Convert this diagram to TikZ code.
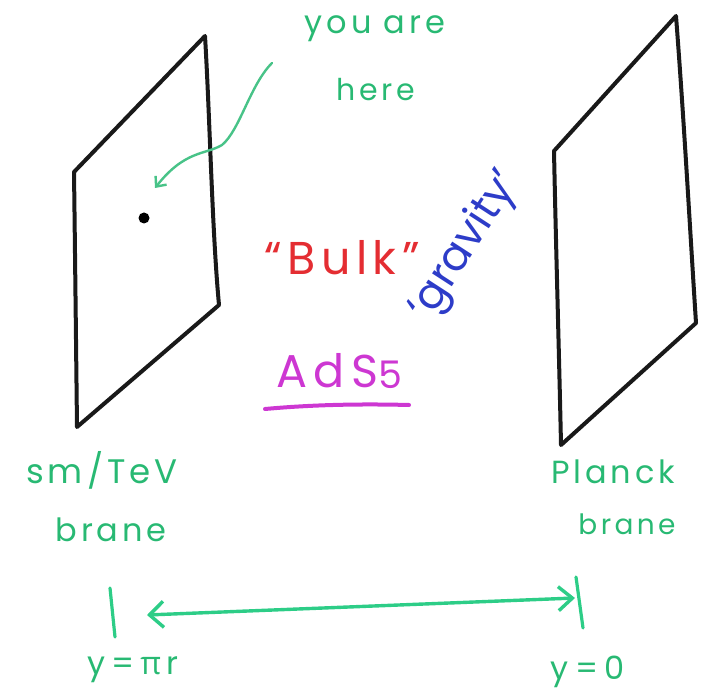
\documentclass[tikz,border=0pt]{standalone}
\usepackage{fontspec}
\setmainfont{Poppins}
\newfontfamily\hand[LetterSpace=12]{Poppins}
\newfontfamily\handwide[LetterSpace=20]{Poppins}
\newfontfamily\handads[LetterSpace=14]{Poppins}
\newfontfamily\greekfont{Open Sans}
\usetikzlibrary{arrows.meta}
\definecolor{hgreen}{RGB}{40,185,115}
\definecolor{agreen}{RGB}{45,205,135}
\definecolor{hred}{RGB}{228,45,50}
\definecolor{hblue}{RGB}{45,60,200}
\definecolor{hmag}{RGB}{205,55,210}
\tikzset{
  brane/.style={draw=black!90,line width=4pt,line join=round,line cap=round},
  gtext/.style={text=hgreen,font=\hand\fontsize{32}{34}\selectfont,inner sep=0pt},
  garrow/.style={draw=agreen,line width=3.4pt,line cap=round},
  tick/.style={draw=agreen,line width=3.2pt,line cap=round}
}
\begin{document}
\begin{tikzpicture}[x=1pt,y=-1pt]
\useasboundingbox (0,0) rectangle (709,692);
% left brane
\draw[brane] (205,36) .. controls (210,120) and (212,230) .. (219,305)
  -- (77,427) .. controls (76,340) and (75,250) .. (74,172) -- cycle;
% right brane
\draw[brane] (676,16) .. controls (684,120) and (690,230) .. (696,323)
  -- (561,445) .. controls (559,350) and (556,250) .. (554,151) -- cycle;
% dot
\coordinate (dot) at (144,218);
\fill[black] (dot) circle (5.5pt);
% you are here
\node[gtext] (youare) at (375,29) {you are};
\node[gtext,font=\hand\fontsize{30}{32}\selectfont] (here) at (376,90) {here};
\coordinate (arrstart) at (272,63);
\coordinate (arrend) at (155,188);
\draw[draw=hgreen!85!white,line width=2.4pt,line cap=round,-{Straight Barb[length=8pt,width=14pt]}]
  (arrstart) .. controls (250,85) and (240,130) .. (222,145)
  .. controls (205,155) and (185,150) .. (arrend);
% Bulk
\node[text=hred,font=\hand\fontsize{46}{50}\selectfont,inner sep=0pt] (bulk) at (342,258) {“Bulk”};
% gravity
\node[text=hblue,font=\fontsize{43}{45}\selectfont,inner sep=0pt,rotate=57] (gravity) at (466,246) {‘gravity’};
% AdS5
\node[text=hmag,font=\handads\fontsize{46}{48}\selectfont,inner sep=0pt] (ads) at (339,371) {AdS\raisebox{-1pt}{\fontsize{38}{38}\selectfont 5}};
\coordinate (ul1) at (265,409);
\coordinate (ul2) at (409,405);
\draw[draw=hmag,line width=4pt,line cap=round] (ul1) .. controls (320,404) and (370,404) .. (ul2);
% labels
\node[gtext,font=\hand\fontsize{34}{36}\selectfont] (smtev) at (102,470) {sm/TeV};
\node[gtext] (brane1) at (111,530) {brane};
\node[gtext] (planck) at (613,472) {Planck};
\node[gtext,font=\hand\fontsize{28}{30}\selectfont] (brane2) at (627,524) {brane};
% bottom arrow
\coordinate (t1a) at (110,588);
\coordinate (t1b) at (115,637);
\coordinate (t2a) at (576,577);
\coordinate (t2b) at (583,628);
\draw[tick] (t1a) -- (t1b);
\draw[tick] (t2a) -- (t2b);
\coordinate (la) at (147,615);
\coordinate (ra) at (575,598);
\draw[garrow,{Straight Barb[length=14pt,width=26pt]}-{Straight Barb[length=14pt,width=24pt]}] (la) -- (ra);
\node[gtext,font=\handwide\fontsize{32}{34}\selectfont] (ypir) at (133,670) {y=\,{\greekfont π}\,r};
\node[gtext,font=\handwide\fontsize{32}{34}\selectfont] (yzero) at (588,672) {y=0};
\end{tikzpicture}
\end{document}
